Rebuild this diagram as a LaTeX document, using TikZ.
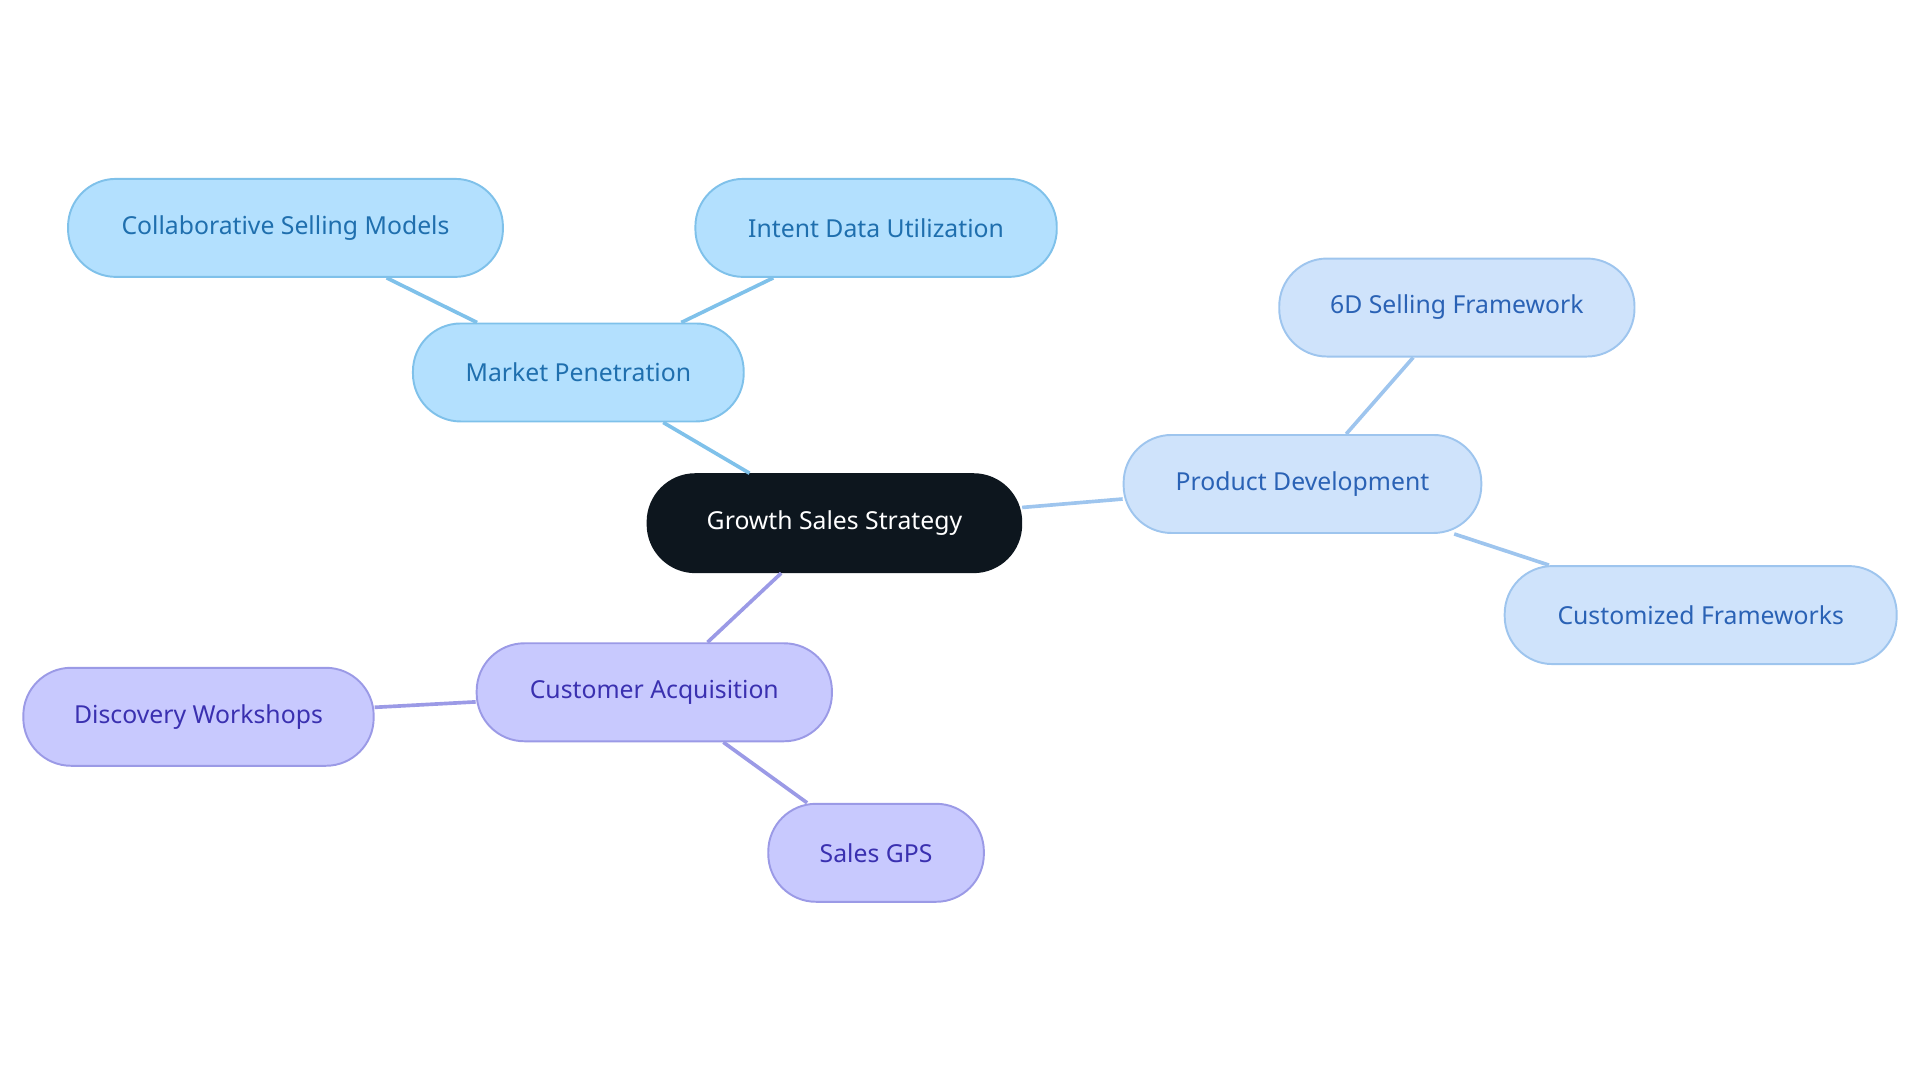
\documentclass[tikz,border=0pt]{standalone}
\usepackage{fontspec}
\setmainfont{Noto Sans}
\definecolor{rootf}{HTML}{0D161E}
\definecolor{mpf}{HTML}{B3E0FE}\definecolor{mpd}{HTML}{7FC1EA}\definecolor{mpt}{HTML}{1F6FAE}
\definecolor{pdf}{HTML}{CFE3FB}\definecolor{pdd}{HTML}{9EC5EE}\definecolor{pdt}{HTML}{2A62B5}
\definecolor{caf}{HTML}{C8C9FE}\definecolor{cad}{HTML}{9B9AE6}\definecolor{cat}{HTML}{3A30B0}
\begin{document}
\begin{tikzpicture}[x=0.02cm,y=-0.02cm,
 box/.style={rounded corners=0.78cm,minimum height=1.6cm,line width=0.9pt,font=\fontsize{11.5}{13}\selectfont,inner sep=0pt},
 mp/.style={box,fill=mpf,draw=mpd,text=mpt},
 pd/.style={box,fill=pdf,draw=pdd,text=pdt},
 ca/.style={box,fill=caf,draw=cad,text=cat},
 ln/.style={line width=1.7pt}]
\useasboundingbox (0,0) rectangle (1567,884);
\node[box,fill=rootf,draw=rootf,text=white,minimum width=6.1cm] (root) at (681,427) {Growth Sales Strategy};
\node[mp,minimum width=5.4cm] (mp) at (472,304) {Market Penetration};
\node[mp,minimum width=7.1cm] (cs) at (233,186) {Collaborative Selling Models};
\node[mp,minimum width=5.9cm] (id) at (715,186) {Intent Data Utilization};
\node[pd,minimum width=5.84cm] (pd) at (1063,395) {Product Development};
\node[pd,minimum width=5.8cm] (sd) at (1189,251) {6D Selling Framework};
\node[pd,minimum width=6.4cm] (cf) at (1388,502) {Customized Frameworks};
\node[ca,minimum width=5.8cm] (ca) at (534,565) {Customer Acquisition};
\node[ca,minimum width=5.72cm] (dw) at (162,585) {Discovery Workshops};
\node[ca,minimum width=3.52cm] (gps) at (715,696) {Sales GPS};
\draw[ln,mpd] (root) -- (mp);
\draw[ln,mpd] (mp) -- (cs);
\draw[ln,mpd] (mp) -- (id);
\draw[ln,pdd] (root) -- (pd);
\draw[ln,pdd] (pd) -- (sd);
\draw[ln,pdd] (pd) -- (cf);
\draw[ln,cad] (root) -- (ca);
\draw[ln,cad] (ca) -- (dw);
\draw[ln,cad] (ca) -- (gps);
\end{tikzpicture}
\end{document}
